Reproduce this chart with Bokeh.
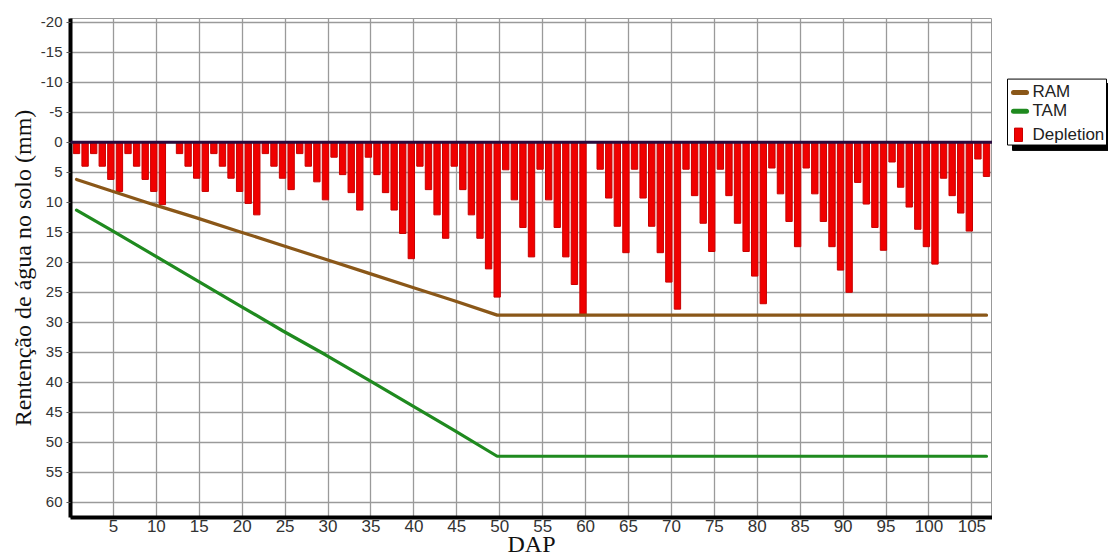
from bokeh.plotting import figure
from bokeh.layouts import row
from bokeh.models import Range1d, FixedTicker, Span, ColumnDataSource
from bokeh.transform import dodge
from bokeh.core.properties import value
from bokeh.embed import file_html
from bokeh.resources import INLINE

# ---- data ----
days = list(range(1, 108))
depletion = [
    1.9, 4.0, 1.9, 4.0, 6.2, 8.2, 1.9, 4.0, 6.2, 8.2,
    10.4, 0.0, 1.9, 4.0, 6.0, 8.2, 1.9, 4.0, 6.0, 8.2,
    10.2, 12.1, 1.9, 4.0, 6.0, 7.9, 1.9, 4.0, 6.6, 9.6,
    2.5, 5.4, 8.4, 11.3, 2.5, 5.4, 8.4, 11.3, 15.2, 19.4,
    4.0, 7.9, 12.1, 16.0, 4.0, 7.9, 12.1, 16.0, 21.1, 25.8,
    4.6, 9.6, 14.2, 19.1, 4.5, 9.6, 14.2, 19.1, 23.7, 28.9,
    0.0, 4.5, 9.3, 14.0, 18.4, 4.5, 9.3, 14.0, 18.4, 23.3,
    27.8, 4.5, 8.9, 13.5, 18.2, 4.5, 8.9, 13.5, 18.2, 22.3,
    26.9, 4.3, 8.6, 13.2, 17.4, 4.3, 8.6, 13.2, 17.4, 21.3,
    25.0, 6.7, 10.3, 14.2, 18.0, 3.3, 7.5, 10.8, 14.5, 17.4,
    20.3, 6.0, 8.9, 11.8, 14.8, 2.8, 5.7,
]
line_days = [1, 5, 10, 15, 20, 25, 30, 35, 40, 45, 50, 107]
ram = [6.2, 8.1, 10.4, 12.6, 14.9, 17.2, 19.5, 21.8, 24.1, 26.4, 28.8, 28.8]
tam = [11.3, 14.6, 18.8, 23.0, 27.2, 31.4, 35.4, 39.6, 43.8, 48.0, 52.3, 52.3]
x_ticks = list(range(5, 106, 5))
y_ticks = list(range(-20, 61, 5))
legend_labels = ["RAM", "TAM", "Depletion"]

RAM_COLOR = "#8a5718"
TAM_COLOR = "#1f8a1f"
DEP_COLOR = "#f00000"

bars = ColumnDataSource(dict(day=days, dep=depletion))
lines = ColumnDataSource(dict(day=line_days, ram=ram, tam=tam))

H = 560
p = figure(width=992, height=H, output_backend="svg", toolbar_location=None,
           x_range=Range1d(0, 107.4), y_range=Range1d(62.5, -20.6),
           min_border_left=70, min_border_right=0, min_border_top=18, min_border_bottom=43)
p.background_fill_color = "white"
p.border_fill_color = "white"
p.outline_line_color = "#999999"
p.outline_line_width = 1

p.vbar(x=dodge("day", -0.3, range=p.x_range), top="dep", bottom=0, width=0.74,
       source=bars, fill_color=DEP_COLOR, line_color="#c80000", line_width=1)
p.line(x=dodge("day", -0.3, range=p.x_range), y="ram", source=lines,
       line_color=RAM_COLOR, line_width=3.2, line_cap="round")
p.line(x=dodge("day", -0.3, range=p.x_range), y="tam", source=lines,
       line_color=TAM_COLOR, line_width=3.2, line_cap="round")

p.add_layout(Span(location=0, dimension="width", line_color="#2b0b3e", line_width=3))

for ax in (p.xaxis[0], p.yaxis[0]):
    ax.axis_line_color = "black"
    ax.axis_line_width = 4
    ax.major_tick_line_color = "#555555"
    ax.major_tick_in = 0
    ax.minor_tick_line_color = None
    ax.major_label_text_font = "Liberation Sans"
    ax.major_label_text_color = "#333333"
    ax.axis_label_text_font = "Liberation Serif"
    ax.axis_label_text_font_size = "24px"
    ax.axis_label_text_font_style = "normal"
    ax.axis_label_text_color = "#111111"

p.xaxis.major_label_text_font_size = "17px"
p.yaxis.major_label_text_font_size = "15px"
p.xaxis.ticker = FixedTicker(ticks=x_ticks)
p.yaxis.ticker = FixedTicker(ticks=y_ticks)
p.yaxis.major_label_overrides = {t: str(t) for t in y_ticks}
p.xaxis.major_tick_out = 0
p.yaxis.major_tick_out = 4
p.xaxis.major_label_standoff = 2
p.yaxis.major_label_standoff = 4
p.xaxis.axis_label = "DAP"
p.yaxis.axis_label = "Rentenção de água no solo (mm)"
p.xaxis.axis_label_standoff = -4
p.yaxis.axis_label_standoff = 2

p.xgrid.grid_line_color = "#9a9a9a"
p.ygrid.grid_line_color = "#9a9a9a"
p.xgrid.grid_line_width = 1.3
p.ygrid.grid_line_width = 1.3

# ---- legend panel (its own small figure, screen-like units) ----
lg = figure(width=116, height=H, output_backend="svg", toolbar_location=None,
            x_range=Range1d(0, 116), y_range=Range1d(H, 0), min_border=0)
lg.axis.visible = False
lg.grid.visible = False
lg.outline_line_color = None
lg.background_fill_color = "white"
lg.border_fill_color = "white"

lg.quad(left=[20], right=[125], top=[73], bottom=[148], fill_color="black", line_color="black")
lg.quad(left=[15], right=[114], top=[68], bottom=[142], fill_color="white", line_color="black", line_width=1)
lg.segment(x0=[21, 21], y0=[83, 104], x1=[34, 34], y1=[83, 104],
           line_color=[RAM_COLOR, TAM_COLOR], line_width=5, line_cap="round")
lg.quad(left=[22], right=[30], top=[123], bottom=[138], fill_color=DEP_COLOR, line_color="#c80000")
lg.text(x=[40, 40, 40], y=[82, 103, 130], text=legend_labels,
        text_font=value("Liberation Sans"), text_font_size="17px",
        text_color="#222222", text_baseline="middle", text_align="left")

layout = row(p, lg, spacing=0)
open("out.html", "w").write(file_html(layout, INLINE))
